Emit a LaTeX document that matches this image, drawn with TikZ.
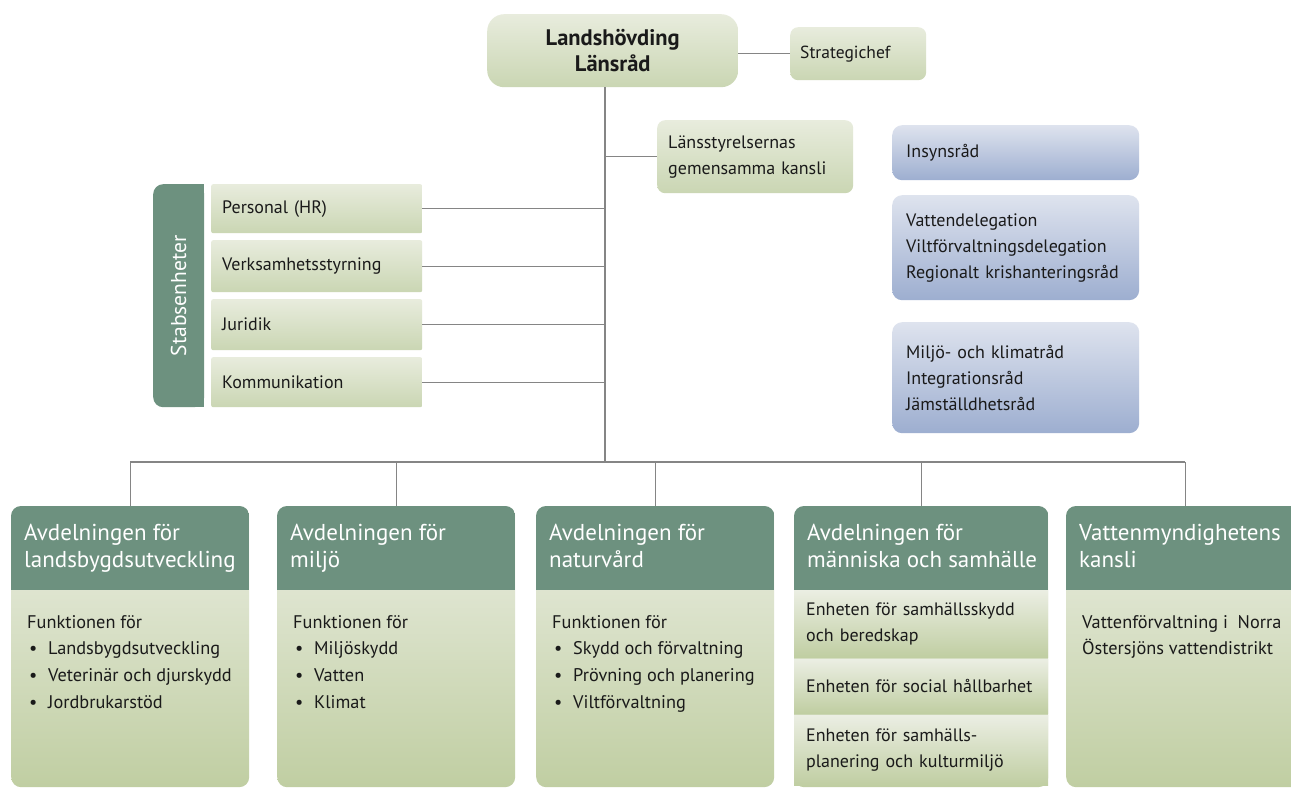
\documentclass[tikz,border=0pt]{standalone}
\usepackage{fontspec}
\setmainfont{PT Sans}
\usetikzlibrary{positioning,calc}

\definecolor{hdrgreen}{HTML}{6D917F}
\definecolor{lgtop}{HTML}{E8ECDD}
\definecolor{lgbot}{HTML}{CAD6B3}
\definecolor{bodytop}{HTML}{EBEEE3}
\definecolor{bodybot}{HTML}{C0CEA2}
\definecolor{bltop}{HTML}{DEE3EE}
\definecolor{blbot}{HTML}{9DAED0}
\definecolor{linegray}{HTML}{858585}
\definecolor{txt}{HTML}{1A1A1A}

\newcommand{\bul}[1]{\makebox[21pt][l]{\hspace{2pt}\textbullet}#1}

\tikzset{
  boxsize/.style n args={3}{minimum width=#1, minimum height=#2, text width=#3},
  greenbox/.style={rectangle, rounded corners=8pt, top color=lgtop, bottom color=lgbot,
    inner xsep=11pt, inner ysep=0pt, text=txt, font=\fontsize{18}{26}\selectfont,
    align=left, anchor=north west},
  bluebox/.style={greenbox, rounded corners=10pt, top color=bltop, bottom color=blbot, inner xsep=14pt},
  unitbox/.style={greenbox, rounded corners=2pt},
  stabbox/.style={rectangle, rounded corners=10pt, fill=hdrgreen, anchor=north west,
    minimum width=51pt, minimum height=223pt, inner sep=0pt},
  deptbox/.style={rectangle, rounded corners=10pt, top color=bodytop, bottom color=bodybot,
    anchor=north west, minimum width=238pt, minimum height=281pt, inner sep=0pt},
  subbox/.style={greenbox, rounded corners=0pt, top color=bodytop, bottom color=bodybot, inner xsep=12pt},
  depthead/.style={text=white, font=\fontsize{23}{27}\selectfont, align=left, inner sep=0pt},
  deptbody/.style={text=txt, font=\fontsize{18.3}{26.7}\selectfont, align=left, inner sep=0pt},
  conn/.style={draw=linegray, line width=1.3pt},
}

\begin{document}
\begin{tikzpicture}[x=1pt,y=-1pt]
	
	% Page frame
	\clip (0,0) rectangle (1291,789);
	\fill[white] (0,0) rectangle (1291,789);
	
	% Top of the organisation
	\node[greenbox, rounded corners=17pt, boxsize={251pt}{73pt}{229pt}, align=center,
	  font=\fontsize{22.5}{26}\selectfont\bfseries] (top) at (487,14) {Landshövding\\Länsråd};
	\node[greenbox, boxsize={136pt}{53pt}{116pt}, inner xsep=10pt, font=\fontsize{17.5}{25}\selectfont] (strat) at (790,27) {Strategichef};
	\node[greenbox, boxsize={196pt}{73pt}{174pt}] (kansli) at (657,120) {Länsstyrelsernas\\gemensamma kansli};
	
	% Staff units
	\node[stabbox] (stab) at (153,184) {};
	\fill[hdrgreen] (stab.north) rectangle (stab.south east);
	\node[rotate=90, text=white, font=\fontsize{21.5}{24}\selectfont] (stablbl) at (stab.center) {Stabsenheter};
	\node[unitbox, boxsize={211pt}{49pt}{189pt}] (hr) at (211,184) {Personal (HR)};
	\node[unitbox, boxsize={211pt}{52pt}{189pt}] (styr) at (211,240) {Verksamhetsstyrning};
	\node[unitbox, boxsize={211pt}{51pt}{189pt}] (jur) at (211,299) {Juridik};
	\node[unitbox, boxsize={211pt}{50pt}{189pt}] (komm) at (211,357) {Kommunikation};
	
	% Councils
	\node[bluebox, boxsize={247pt}{55pt}{219pt}] (insyn) at (892,125) {Insynsråd};
	\node[bluebox, boxsize={247pt}{105pt}{219pt}] (deleg) at (892,195)
	  {Vattendelegation\\Viltförvaltningsdelegation\\Regionalt krishanteringsråd};
	\node[bluebox, boxsize={247pt}{111pt}{219pt}] (rad) at (892,322)
	  {Miljö- och klimatråd\\Integrationsråd\\Jämställdhetsråd};
	
	% Departments
	\node[deptbox] (d1) at (11,506) {};
	\node[deptbox] (d2) at (277,506) {};
	\node[deptbox] (d3) at (536,506) {};
	\node[deptbox, minimum width=254pt] (d4) at (794,506) {};
	\node[deptbox] (d5) at (1066,506) {};
	\foreach \d in {d1,d2,d3,d4,d5}{
	  \begin{scope}
	    \clip[rounded corners=10pt] (\d.north west) rectangle (\d.south east);
	    \fill[hdrgreen] (\d.north west) rectangle ($(\d.north east)+(0,84)$);
	  \end{scope}
	}
	
	% Units of the social department
	\node[subbox, boxsize={254pt}{67pt}{230pt}] (sk) at (794,590) {Enheten för samhällsskydd\\och beredskap};
	\node[subbox, boxsize={254pt}{54pt}{230pt}] (soc) at (794,659) {Enheten för social hållbarhet};
	\node[subbox, boxsize={254pt}{70pt}{230pt}] (plan) at (794,715) {Enheten för samhälls-\\planering och kulturmiljö};
	
	% Department titles
	\node[depthead, below right=18pt and 13pt of d1.north west] (h1) {Avdelningen för\\landsbygdsutveckling};
	\node[depthead, below right=18pt and 13pt of d2.north west] (h2) {Avdelningen för\\miljö};
	\node[depthead, below right=18pt and 13pt of d3.north west] (h3) {Avdelningen för\\naturvård};
	\node[depthead, below right=18pt and 13pt of d4.north west] (h4) {Avdelningen för\\människa och samhälle};
	\node[depthead, below right=18pt and 13pt of d5.north west] (h5) {Vattenmyndighetens\\kansli};
	
	% Department contents
	\node[deptbody, below right=109pt and 16pt of d1.north west] (b1)
	  {Funktionen för\\\bul{Landsbygdsutveckling}\\\bul{Veterinär och djurskydd}\\\bul{Jordbrukarstöd}};
	\node[deptbody, below right=109pt and 16pt of d2.north west] (b2)
	  {Funktionen för\\\bul{Miljöskydd}\\\bul{Vatten}\\\bul{Klimat}};
	\node[deptbody, below right=109pt and 16pt of d3.north west] (b3)
	  {Funktionen för\\\bul{Skydd och förvaltning}\\\bul{Prövning och planering}\\\bul{Viltförvaltning}};
	\node[deptbody, below right=109pt and 16pt of d5.north west] (b5)
	  {Vattenförvaltning i\ \ Norra\\Östersjöns vattendistrikt};
	
	% Connectors
	\coordinate (bus) at (605,462);
	\draw[conn] (bus |- top.south) -- (bus);
	\draw[conn] (strat.west -| top.east) -- (strat.west);
	\draw[conn] (kansli.west -| bus) -- (kansli.west);
	\foreach \u in {hr,styr,jur,komm}
	  \draw[conn] (\u.east) -- (\u.east -| bus);
	\draw[conn] (d1.north |- bus) -- (d5.north |- bus);
	\foreach \d in {d1,d2,d3,d4,d5}
	  \draw[conn] (\d.north |- bus) -- (\d.north);
	
\end{tikzpicture}
\end{document}
